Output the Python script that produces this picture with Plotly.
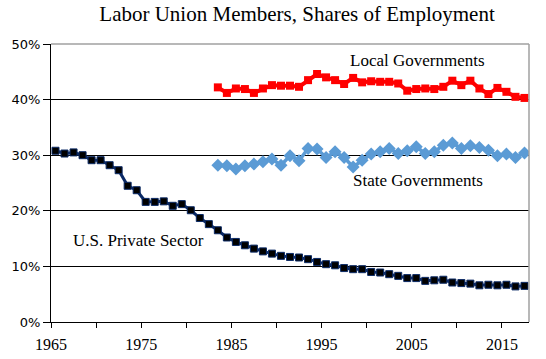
import plotly.graph_objects as go

# ---- data ----
private_years = list(range(1965, 2018))
private_share = [30.8, 30.3, 30.5, 30.0, 29.1, 29.1, 28.2, 27.3, 24.5, 23.7,
                 21.6, 21.6, 21.7, 20.9, 21.2, 20.1, 18.7, 17.6, 16.5, 15.2,
                 14.4, 13.8, 13.2, 12.7, 12.3, 11.9, 11.7, 11.6, 11.3, 10.8,
                 10.4, 10.2, 9.7, 9.5, 9.5, 9.0, 8.9, 8.6, 8.3, 7.9,
                 7.9, 7.4, 7.5, 7.6, 7.1, 7.0, 6.9, 6.6, 6.7, 6.6,
                 6.7, 6.4, 6.5]

gov_years = list(range(1983, 2018))
local_share = [42.2, 41.2, 42.0, 41.9, 41.2, 42.0, 42.6, 42.5, 42.5, 42.3,
               43.5, 44.6, 44.0, 43.5, 42.8, 43.9, 43.1, 43.3, 43.2, 43.2,
               42.9, 41.6, 41.9, 42.0, 41.9, 42.3, 43.4, 42.6, 43.4, 42.0,
               41.0, 42.1, 41.4, 40.5, 40.3]
state_share = [28.2, 28.1, 27.5, 28.1, 28.4, 28.8, 29.3, 28.2, 29.9, 29.0,
               31.2, 31.1, 29.6, 30.6, 29.6, 27.9, 29.1, 30.2, 30.6, 31.2,
               30.3, 30.8, 31.5, 30.3, 30.6, 31.8, 32.2, 31.2, 31.7, 31.4,
               30.9, 29.9, 30.2, 29.6, 30.4]

x_tick_years = [1965, 1970, 1975, 1980, 1985, 1990, 1995, 2000, 2005, 2010, 2015]
x_tick_labels = ["1965", "", "1975", "", "1985", "", "1995", "", "2005", "", "2015"]
y_tick_vals = [0, 10, 20, 30, 40, 50]
y_tick_labels = ["0%", "10%", "20%", "30%", "40%", "50%"]

title_text = "Labor Union Members, Shares of Employment"

# points sit in the middle of each year slot
px = [y + 0.5 for y in private_years]
gx = [y + 0.5 for y in gov_years]

serif = "Liberation Serif, Times New Roman, serif"

fig = go.Figure()
fig.add_trace(go.Scatter(
    x=px, y=private_share, mode="lines+markers", name="U.S. Private Sector",
    line=dict(color="#0b2a66", width=3),
    marker=dict(symbol="square", size=7, color="#000000",
                line=dict(color="#0b2a66", width=1)),
))
fig.add_trace(go.Scatter(
    x=gx, y=local_share, mode="lines+markers", name="Local Governments",
    line=dict(color="#ff0000", width=4),
    marker=dict(symbol="square", size=8, color="#ff0000"),
))
fig.add_trace(go.Scatter(
    x=gx, y=state_share, mode="lines+markers", name="State Governments",
    line=dict(color="#5b9bd5", width=3.5),
    marker=dict(symbol="diamond", size=10, color="#5b9bd5"),
))

fig.update_layout(
    width=546, height=359,
    margin=dict(l=51, r=17, t=44, b=37),
    paper_bgcolor="white", plot_bgcolor="white",
    showlegend=False,
    title=dict(text=title_text, x=0.544, xanchor="center", y=0.962, yanchor="middle",
               font=dict(family=serif, size=21, color="black")),
    xaxis=dict(
        range=[1965, 2018], tickmode="array", tickvals=x_tick_years, ticktext=x_tick_labels,
        showgrid=False, zeroline=False, showline=True, linecolor="black", linewidth=1,
        ticks="outside", ticklen=5, tickcolor="black", ticklabelstandoff=3,
        automargin=False,
        tickfont=dict(family=serif, size=16, color="black"),
    ),
    yaxis=dict(
        range=[0, 50], tickmode="array", tickvals=y_tick_vals, ticktext=y_tick_labels,
        showgrid=True, gridcolor="black", gridwidth=1, zeroline=False,
        showline=True, linecolor="black", linewidth=1,
        ticks="outside", ticklen=7, tickcolor="black", automargin=False,
        tickfont=dict(family="DejaVu Sans, Verdana, sans-serif", size=13, color="black"),
    ),
    shapes=[
        dict(type="line", xref="paper", yref="paper", x0=0, x1=1, y0=1, y1=1,
             line=dict(color="#a0a0a0", width=1.5), layer="above"),
        dict(type="line", xref="paper", yref="paper", x0=1, x1=1, y0=0, y1=1,
             line=dict(color="#a0a0a0", width=1.5), layer="above"),
    ],
    annotations=[
        dict(text="Local Governments", x=2005.6, y=47.0, xref="x", yref="y",
             showarrow=False, font=dict(family=serif, size=17, color="black")),
        dict(text="State Governments", x=2005.7, y=25.4, xref="x", yref="y",
             showarrow=False, font=dict(family=serif, size=17, color="black")),
        dict(text="U.S. Private Sector", x=1974.7, y=14.7, xref="x", yref="y",
             showarrow=False, font=dict(family=serif, size=17, color="black")),
    ],
)

fig.write_html("out.html", config={"displayModeBar": False},
               post_script="document.body.style.margin='0';document.body.style.overflow='hidden';")
